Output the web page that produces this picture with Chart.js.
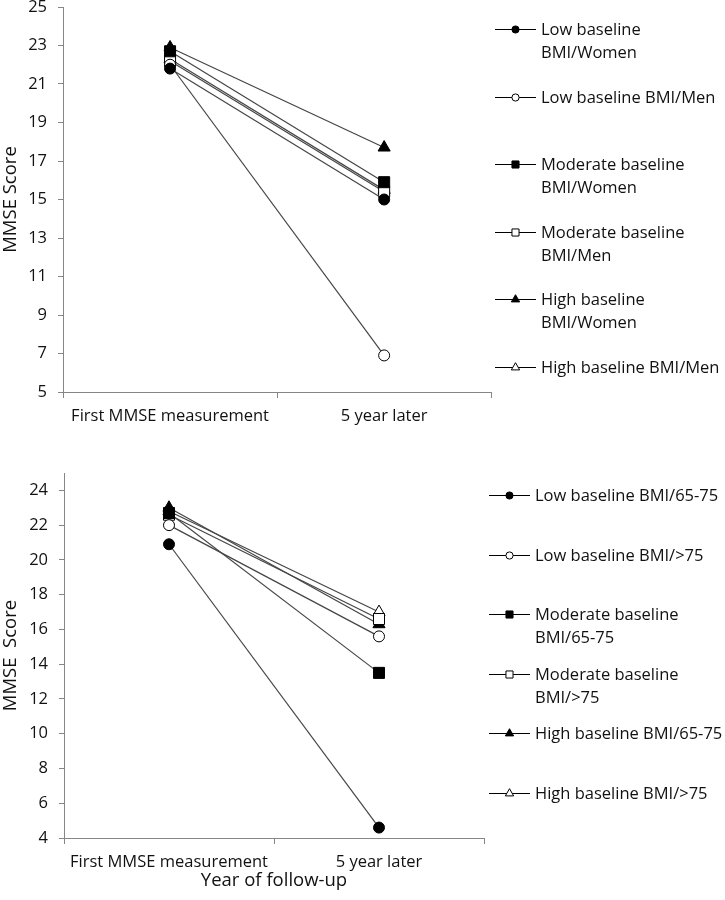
<!DOCTYPE html>
<html>
<head>
<meta charset="utf-8">
<script src="https://cdn.jsdelivr.net/npm/chart.js@4.4.1/dist/chart.umd.min.js"></script>
<style>
  body { margin: 0; background: #fff; }
  #page { position: relative; width: 725px; height: 900px; overflow: hidden; font-family: "Open Sans", sans-serif; color: #111; }
  .chart-box { position: absolute; left: 0; }
  .legend { position: absolute; font-size: 16.5px; line-height: 23px; }
  .legend .item { display: flex; align-items: flex-start; }
  .legend canvas { flex: none; }
  .legend span { margin-left: 3px; white-space: pre-line; }
</style>
</head>
<body>
<div id="page">
  <div class="chart-box" style="top:-20px"><canvas id="top-chart" width="500" height="450"></canvas></div>
  <div class="chart-box" style="top:450px"><canvas id="bottom-chart" width="500" height="450"></canvas></div>
  <div class="legend" id="top-legend" style="left:492px; top:17px"></div>
  <div class="legend" id="bottom-legend" style="left:486px; top:483px"></div>
</div>
<script>
const categories = ["First MMSE measurement", "5 year later"];

// upper panel, split by sex
const lowWomen = [21.8, 15.0];
const lowMen = [22.0, 6.9];
const moderateWomen = [22.7, 15.9];
const moderateMen = [22.2, 15.4];
const highWomen = [22.9, 17.7];
const highMen = [22.3, 15.5];
const sexNames = [
  "Low baseline\nBMI/Women", "Low baseline BMI/Men",
  "Moderate baseline\nBMI/Women", "Moderate baseline\nBMI/Men",
  "High baseline\nBMI/Women", "High baseline BMI/Men"
];
const sexTicks = [5, 7, 9, 11, 13, 15, 17, 19, 21, 23, 25];

// lower panel, split by age group
const low6575 = [20.9, 4.6];
const lowOver75 = [22.0, 15.6];
const moderate6575 = [22.7, 13.5];
const moderateOver75 = [22.6, 16.6];
const high6575 = [23.0, 16.3];
const highOver75 = [22.8, 17.0];
const ageNames = [
  "Low baseline BMI/65-75", "Low baseline BMI/>75",
  "Moderate baseline\nBMI/65-75", "Moderate baseline\nBMI/>75",
  "High baseline BMI/65-75", "High baseline BMI/>75"
];
const ageTicks = [4, 6, 8, 10, 12, 14, 16, 18, 20, 22, 24];

// marker look, same order in both panels
const markers = [
  { style: "circle", fill: "#000", r: 5.5, lr: 3.6 },
  { style: "circle", fill: "#fff", r: 5.5, lr: 3.6 },
  { style: "rect", fill: "#000", r: 7.8, lr: 5 },
  { style: "rect", fill: "#fff", r: 7.8, lr: 5 },
  { style: "triangle", fill: "#000", r: 7, lr: 4.8 },
  { style: "triangle", fill: "#fff", r: 7, lr: 4.8 }
];

const axisColor = "#868686";
const lineColor = "#454545";

Chart.defaults.font.family = "'Open Sans', sans-serif";
Chart.defaults.font.size = 16.5;
Chart.defaults.color = "#111";

function makeDatasets(series, names) {
  return series.map((values, i) => ({
    label: names[i],
    data: values,
    borderColor: lineColor,
    borderWidth: 1.2,
    pointStyle: markers[i].style,
    pointRadius: markers[i].r,
    pointBackgroundColor: markers[i].fill,
    pointBorderColor: "#000",
    pointBorderWidth: 1,
    fill: false,
    tension: 0
  }));
}

function makeChart(canvasId, datasets, ticks, yTitle, xTitle, opts) {
  return new Chart(document.getElementById(canvasId), {
    type: "line",
    data: { labels: categories, datasets: datasets },
    options: {
      responsive: false,
      animation: false,
      layout: { padding: opts.padding },
      plugins: { legend: { display: false }, tooltip: { enabled: false } },
      scales: {
        x: {
          offset: true,
          grid: { offset: true, drawOnChartArea: false, color: axisColor, tickLength: 6 },
          border: { color: axisColor },
          ticks: { padding: 8, maxRotation: 0 },
          title: { display: !!xTitle, text: xTitle, font: { size: 18.5 }, padding: { top: 0, bottom: 0 } },
          afterFit: (scale) => { scale.height = opts.xHeight; }
        },
        y: {
          min: ticks[0],
          max: opts.yMax,
          grid: { drawOnChartArea: false, color: axisColor, tickLength: 5 },
          border: { color: axisColor },
          ticks: { padding: 11 },
          title: { display: true, text: yTitle, font: { size: 18.5 }, padding: { top: 0, bottom: 0 } },
          afterBuildTicks: (scale) => { scale.ticks = ticks.map((v) => ({ value: v })); },
          afterFit: (scale) => { scale.width = opts.yWidth; }
        }
      }
    }
  });
}

function makeLegend(boxId, names, itemHeight) {
  const box = document.getElementById(boxId);
  names.forEach((name, i) => {
    const item = document.createElement("div");
    item.className = "item";
    item.style.height = itemHeight + "px";
    const sw = document.createElement("canvas");
    sw.width = 46;
    sw.height = 23;
    const ctx = sw.getContext("2d");
    ctx.strokeStyle = "#000";
    ctx.lineWidth = 1;
    ctx.beginPath();
    ctx.moveTo(3, 12.5);
    ctx.lineTo(44, 12.5);
    ctx.stroke();
    ctx.fillStyle = markers[i].fill;
    Chart.helpers.drawPoint(ctx, { pointStyle: markers[i].style, radius: markers[i].lr, borderWidth: 1, rotation: 0 }, 23.5, 12.5);
    const label = document.createElement("span");
    label.textContent = name;
    item.appendChild(sw);
    item.appendChild(label);
    box.appendChild(item);
  });
}

makeChart("top-chart",
  makeDatasets([lowWomen, lowMen, moderateWomen, moderateMen, highWomen, highMen], sexNames),
  sexTicks, "MMSE Score", "",
  { padding: { top: 27, right: 6, bottom: 0, left: 0 }, xHeight: 38, yWidth: 63, yMax: 25 });

makeChart("bottom-chart",
  makeDatasets([low6575, lowOver75, moderate6575, moderateOver75, high6575, highOver75], ageNames),
  ageTicks, "MMSE  Score", "Year of follow-up",
  { padding: { top: 23, right: 16, bottom: 8, left: 0 }, xHeight: 54, yWidth: 64, yMax: 25 });

makeLegend("top-legend", sexNames, 67.6);
makeLegend("bottom-legend", ageNames, 59.6);
</script>
</body>
</html>
